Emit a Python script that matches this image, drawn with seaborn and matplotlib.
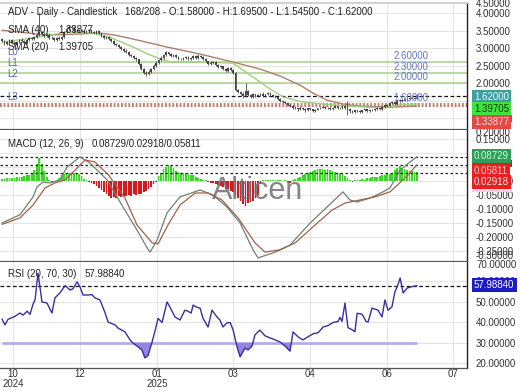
import numpy as np
import matplotlib
matplotlib.use("Agg")
import matplotlib.pyplot as plt
from matplotlib.ticker import FormatStrFormatter
from matplotlib.patches import Rectangle
import seaborn as sns

# ---------------- data ----------------
opens = [3.25, 3.20, 3.12, 3.18, 3.22, 3.15, 3.10, 3.18, 3.24, 3.20,
         3.16, 3.22, 3.28, 3.25, 3.32, 3.38, 3.45, 3.40, 3.35, 3.38,
         3.30, 3.28, 3.22, 3.30, 3.25, 3.32, 3.45, 3.55, 3.60, 3.58,
         3.50, 3.48, 3.52, 3.50, 3.45, 3.48, 3.52, 3.47, 3.44, 3.48,
         3.42, 3.35, 3.28, 3.32, 3.25, 3.20, 3.12, 3.08, 3.02, 2.98,
         2.92, 2.88, 2.80, 2.78, 2.72, 2.68, 2.55, 2.40, 2.30, 2.25,
         2.32, 2.40, 2.50, 2.58, 2.65, 2.72, 2.80, 2.88, 2.82, 2.78,
         2.80, 2.75, 2.70, 2.68, 2.72, 2.75, 2.70, 2.73, 2.76, 2.72,
         2.78, 2.74, 2.70, 2.62, 2.55, 2.58, 2.60, 2.52, 2.45, 2.48,
         2.40, 2.35, 2.42, 2.38, 2.30, 1.80, 1.75, 1.70, 1.62, 1.78,
         1.65, 1.60, 1.68, 1.62, 1.66, 1.70, 1.64, 1.68, 1.72, 1.66,
         1.62, 1.60, 1.55, 1.50, 1.45, 1.42, 1.38, 1.35, 1.30, 1.28,
         1.25, 1.30, 1.26, 1.22, 1.28, 1.25, 1.20, 1.24, 1.28, 1.30,
         1.32, 1.28, 1.30, 1.26, 1.30, 1.33, 1.28, 1.30, 1.35, 1.30,
         1.25, 1.20, 1.18, 1.22, 1.20, 1.16, 1.22, 1.25, 1.20, 1.24,
         1.22, 1.26, 1.28, 1.25, 1.32, 1.38, 1.35, 1.42, 1.45, 1.40,
         1.48, 1.52, 1.50, 1.55, 1.53, 1.58, 1.55, 1.58]
highs = [3.28, 3.24, 3.21, 3.25, 3.26, 3.19, 3.20, 3.27, 3.28, 3.23,
         3.25, 3.31, 3.32, 3.35, 3.42, 4.00, 3.50, 3.45, 3.42, 3.42,
         3.34, 3.31, 3.33, 3.34, 3.36, 3.50, 3.60, 3.66, 3.65, 3.62,
         3.54, 3.56, 3.56, 3.53, 3.51, 3.56, 3.56, 3.50, 3.51, 3.51,
         3.44, 3.38, 3.36, 3.35, 3.28, 3.22, 3.16, 3.11, 3.05, 3.01,
         2.96, 2.91, 2.84, 2.81, 2.75, 2.70, 2.58, 2.44, 2.34, 2.36,
         2.44, 2.54, 2.62, 2.68, 2.76, 2.84, 2.92, 2.90, 2.86, 2.84,
         2.83, 2.78, 2.73, 2.75, 2.78, 2.78, 2.75, 2.80, 2.80, 2.82,
         2.80, 2.76, 2.72, 2.64, 2.62, 2.63, 2.62, 2.55, 2.51, 2.50,
         2.43, 2.45, 2.45, 2.41, 2.32, 1.84, 1.78, 1.73, 2.00, 1.80,
         1.68, 1.71, 1.70, 1.68, 1.72, 1.73, 1.70, 1.75, 1.75, 1.69,
         1.65, 1.62, 1.57, 1.52, 1.48, 1.44, 1.40, 1.37, 1.33, 1.30,
         1.33, 1.32, 1.28, 1.30, 1.30, 1.27, 1.26, 1.30, 1.32, 1.35,
         1.34, 1.32, 1.32, 1.32, 1.36, 1.35, 1.32, 1.38, 1.38, 1.50,
         1.28, 1.22, 1.24, 1.24, 1.22, 1.24, 1.27, 1.27, 1.26, 1.26,
         1.28, 1.30, 1.30, 1.34, 1.40, 1.40, 1.45, 1.48, 1.47, 1.50,
         1.55, 1.54, 1.58, 1.57, 1.60, 1.60, 1.61, 1.695]
lows = [3.17, 3.09, 3.10, 3.15, 3.12, 3.07, 3.07, 3.15, 3.17, 3.13,
        3.13, 3.19, 3.22, 3.22, 3.29, 3.35, 3.37, 3.32, 3.32, 3.27,
        3.25, 3.19, 3.19, 3.22, 3.22, 3.30, 3.42, 3.52, 3.55, 3.47,
        3.45, 3.45, 3.47, 3.42, 3.42, 3.45, 3.44, 3.41, 3.41, 3.39,
        3.32, 3.25, 3.25, 3.22, 3.17, 3.09, 3.05, 2.99, 2.95, 2.89,
        2.85, 2.77, 2.75, 2.69, 2.64, 2.52, 2.37, 2.26, 2.20, 2.22,
        2.29, 2.38, 2.47, 2.55, 2.62, 2.69, 2.77, 2.79, 2.75, 2.75,
        2.72, 2.67, 2.65, 2.66, 2.69, 2.67, 2.67, 2.70, 2.69, 2.70,
        2.71, 2.67, 2.59, 2.52, 2.52, 2.55, 2.49, 2.42, 2.43, 2.37,
        2.32, 2.33, 2.35, 2.27, 1.78, 1.72, 1.66, 1.58, 1.60, 1.62,
        1.56, 1.57, 1.59, 1.60, 1.63, 1.61, 1.61, 1.65, 1.63, 1.59,
        1.57, 1.52, 1.47, 1.42, 1.39, 1.35, 1.32, 1.27, 1.25, 1.21,
        1.23, 1.23, 1.18, 1.20, 1.22, 1.16, 1.18, 1.22, 1.25, 1.28,
        1.25, 1.26, 1.23, 1.24, 1.28, 1.25, 1.26, 1.27, 1.27, 1.10,
        1.15, 1.13, 1.15, 1.17, 1.13, 1.14, 1.19, 1.17, 1.18, 1.19,
        1.20, 1.23, 1.22, 1.23, 1.30, 1.32, 1.33, 1.39, 1.37, 1.38,
        1.45, 1.47, 1.48, 1.50, 1.51, 1.53, 1.53, 1.545]
closes = [3.20, 3.12, 3.18, 3.22, 3.15, 3.10, 3.18, 3.24, 3.20, 3.16,
          3.22, 3.28, 3.25, 3.32, 3.38, 3.45, 3.40, 3.35, 3.38, 3.30,
          3.28, 3.22, 3.30, 3.25, 3.32, 3.45, 3.55, 3.60, 3.58, 3.50,
          3.48, 3.52, 3.50, 3.45, 3.48, 3.52, 3.47, 3.44, 3.48, 3.42,
          3.35, 3.28, 3.32, 3.25, 3.20, 3.12, 3.08, 3.02, 2.98, 2.92,
          2.88, 2.80, 2.78, 2.72, 2.68, 2.55, 2.40, 2.30, 2.25, 2.32,
          2.40, 2.50, 2.58, 2.65, 2.72, 2.80, 2.88, 2.82, 2.78, 2.80,
          2.75, 2.70, 2.68, 2.72, 2.75, 2.70, 2.73, 2.76, 2.72, 2.78,
          2.74, 2.70, 2.62, 2.55, 2.58, 2.60, 2.52, 2.45, 2.48, 2.40,
          2.35, 2.42, 2.38, 2.30, 1.80, 1.75, 1.70, 1.62, 1.78, 1.65,
          1.60, 1.68, 1.62, 1.66, 1.70, 1.64, 1.68, 1.72, 1.66, 1.62,
          1.60, 1.55, 1.50, 1.45, 1.42, 1.38, 1.35, 1.30, 1.28, 1.25,
          1.30, 1.26, 1.22, 1.28, 1.25, 1.20, 1.24, 1.28, 1.30, 1.32,
          1.28, 1.30, 1.26, 1.30, 1.33, 1.28, 1.30, 1.35, 1.30, 1.25,
          1.20, 1.18, 1.22, 1.20, 1.16, 1.22, 1.25, 1.20, 1.24, 1.22,
          1.26, 1.28, 1.25, 1.32, 1.38, 1.35, 1.42, 1.45, 1.40, 1.48,
          1.52, 1.50, 1.55, 1.53, 1.58, 1.55, 1.58, 1.62]

sma40_bar = [0, 7.2, 17.3, 29.4, 39.4, 45.5, 52.7, 66.4, 79.7, 93.0,
             103.8, 111.9, 119.9, 125.2, 130.8, 137.2, 144.1, 156.1, 167.0]
sma40_val = [3.51, 3.46, 3.37, 3.40, 3.43, 3.37, 3.26, 3.03, 2.83, 2.60,
             2.40, 2.20, 1.94, 1.71, 1.51, 1.40, 1.34, 1.31, 1.34]
sma20_bar = [0, 12.5, 26.2, 36.6, 43.5, 52.7, 59.6, 67.6, 80.9, 93.0,
             99.8, 106.6, 113.1, 121.1, 133.2, 146.9, 153.3, 160.2, 167.0]
sma20_val = [3.17, 3.29, 3.46, 3.43, 3.31, 3.03, 2.80, 2.60, 2.60, 2.57,
             2.23, 1.89, 1.60, 1.46, 1.37, 1.31, 1.29, 1.37, 1.40]

macd_hist = [0.008, 0.008, 0.010, 0.010, 0.012, 0.012, 0.014, 0.015,
             0.016, 0.018, 0.020, 0.022, 0.025,
             0.040, 0.060, 0.082,
             0.060, 0.035, 0.015,
             0.005, -0.003, -0.002, 0.003,
             0.012, 0.020, 0.025, 0.028, 0.030, 0.030, 0.028, 0.030, 0.026, 0.018,
             0.008, 0.002,
             -0.004, -0.008, -0.012, -0.018, -0.025, -0.032,
             -0.040, -0.048, -0.055, -0.060, -0.058, -0.062,
             -0.055, -0.058, -0.052, -0.055, -0.050, -0.053,
             -0.048, -0.050, -0.045, -0.048, -0.040, -0.036,
             -0.030, -0.020, -0.012, -0.004,
             0.018, 0.030, 0.042, 0.050,
             0.057, 0.052, 0.045,
             0.035, 0.032, 0.030, 0.028, 0.026, 0.025,
             0.022, 0.020, 0.016, 0.012, 0.008, 0.004, 0.002,
             -0.004, -0.006, -0.008, -0.010, -0.014, -0.018,
             -0.022, -0.028, -0.030, -0.035, -0.040, -0.050,
             -0.060, -0.070, -0.082, -0.088, -0.080, -0.075,
             -0.070, -0.060, -0.050, -0.010,
             0.003, 0.002, 0.004, 0.003, 0.002, 0.004, 0.003, 0.002, 0.001, 0.002, -0.002, -0.006,
             0.002, 0.006, 0.010, 0.014, 0.020, 0.024,
             0.028, 0.032, 0.036, 0.040, 0.042, 0.044,
             0.043, 0.040, 0.042, 0.038, 0.036, 0.032,
             0.030, 0.028, 0.024, 0.018, 0.010, 0.004,
             -0.002, 0.002, 0.003, 0.004, 0.006, 0.005,
             0.010, 0.012, 0.014, 0.013, 0.016, 0.018,
             0.020, 0.022, 0.024, 0.025, 0.030, 0.040,
             0.048, 0.052, 0.047, 0.042, 0.038,
             0.036, 0.034, 0.032, 0.032]

macd_bar = [0, 7.2, 12.5, 14.1, 16.5, 19.3, 23.3, 26.2, 31.4, 35.4,
            42.3, 48.7, 54.3, 58.4, 59.6, 62.4, 66.4, 71.6, 79.7, 84.9,
            90.5, 95.8, 101.0, 103.0, 110.0, 115.9, 124.0, 130.8, 137.2, 140.0,
            142.9, 148.1, 153.3, 156.1, 160.2, 164.2, 167.0]
macd_val = [-0.150, -0.121, -0.057, -0.021, -0.004, -0.007, 0.004, 0.050, 0.086, 0.064,
            0.004, -0.093, -0.175, -0.239, -0.254, -0.211, -0.114, -0.057, -0.032, -0.050,
            -0.093, -0.150, -0.246, -0.275, -0.254, -0.229, -0.150, -0.093, -0.039, -0.068,
            -0.075, -0.061, -0.039, -0.025, 0.039, 0.068, 0.087]
signal_bar = [0, 7.2, 12.5, 17.3, 21.3, 25.4, 29.4, 33.4, 37.4, 42.9,
              49.5, 54.3, 60.4, 62.8, 66.8, 71.6, 77.7, 82.9, 88.5, 95.0,
              101.8, 105.8, 111.9, 118.0, 126.0, 132.8, 138.0, 144.0, 150.0, 156.1,
              162.2, 167.0]
signal_val = [-0.155, -0.132, -0.086, -0.025, -0.007, 0.004, 0.039, 0.075, 0.068, 0.021,
              -0.061, -0.157, -0.221, -0.225, -0.157, -0.086, -0.043, -0.043, -0.068, -0.132,
              -0.221, -0.254, -0.246, -0.221, -0.157, -0.104, -0.079, -0.068, -0.057, -0.039,
              0.011, 0.058]

rsi_bar = [0, 1.2, 2.4, 5.2, 7.2, 8.5, 10.1, 11.3, 12.5, 13.3,
           14.5, 16.1, 18.1, 20.1, 21.3, 23.3, 25.4, 27.4, 28.6, 30.2,
           31.4, 32.6, 34.6, 36.2, 37.4, 39.4, 41.4, 42.7, 45.5, 46.7,
           49.5, 51.5, 52.7, 54.3, 56.3, 57.5, 58.8, 60.4, 61.6, 62.8,
           64.4, 66.4, 67.6, 69.6, 71.6, 73.6, 74.8, 76.1, 76.9, 78.1,
           79.7, 80.9, 82.9, 84.5, 86.5, 87.7, 88.9, 90.5, 91.8, 93.0,
           94.6, 95.8, 97.8, 99.0, 100.6, 101.8, 103.0, 103.8, 105.8, 107.8,
           109.9, 111.9, 113.9, 115.9, 117.1, 119.1, 121.1, 123.1, 125.2, 127.2,
           129.2, 131.2, 133.2, 135.2, 136.0, 136.8, 138.0, 139.2, 140.8, 142.0,
           142.9, 144.9, 146.5, 147.3, 148.9, 151.3, 152.9, 154.1, 155.3, 156.9,
           158.1, 159.0, 160.2, 161.4, 163.0, 165.0, 167.0]
rsi_val = [41.7, 38.8, 41.5, 43.0, 44.6, 43.6, 45.5, 44.0, 49.0, 51.0,
           64.0, 50.0, 49.5, 44.6, 52.0, 54.4, 58.0, 55.8, 56.5, 59.8,
           57.3, 53.4, 53.4, 53.6, 52.0, 51.0, 45.0, 40.2, 38.8, 37.3,
           35.4, 31.5, 30.0, 28.5, 26.6, 22.7, 24.0, 30.5, 36.0, 42.0,
           40.0, 50.0, 47.5, 42.7, 41.2, 46.0, 45.5, 44.6, 48.5, 47.6,
           47.0, 42.0, 37.8, 46.0, 42.7, 41.2, 37.8, 39.8, 40.0, 36.3,
           28.0, 23.2, 27.5, 26.6, 28.5, 34.0, 35.4, 36.3, 33.5, 32.5,
           31.5, 30.5, 28.5, 26.0, 35.4, 33.0, 31.5, 33.0, 34.5, 35.0,
           37.8, 38.5, 40.0, 40.5, 42.5, 40.5, 49.5, 37.5, 36.5, 35.5,
           44.5, 44.0, 40.5, 40.2, 47.0, 46.0, 42.7, 51.0, 46.0, 47.6,
           55.0, 57.3, 61.7, 54.4, 56.8, 57.5, 57.99]

levels = [2.6, 2.3, 2.0]
level_texts = ["2.60000", "2.30000", "2.00000"]
l3_level = 1.6
last_close = 1.62
sma20_last = 1.39705
sma40_last = 1.33877
macd_last, signal_last, hist_last = 0.08729, 0.05811, 0.02918
rsi_last = 57.98840

month_ticks = [4.4, 31.4, 62.4, 93.0, 124.0, 155.0, 181.5]
month_labels = ["10\n2024", "12", "01\n2025", "03", "04", "06", "07"]

# ---------------- figure ----------------
sns.set_theme(style="white")
plt.rcParams["font.family"] = ["Liberation Sans", "DejaVu Sans"]

W, H = 520, 390
fig = plt.figure(figsize=(W / 100, H / 100), dpi=100)
fig.patch.set_facecolor("white")


def fx(px):
    return px / W


def fy(py):
    return 1 - py / H


PR = 467
ax1 = fig.add_axes([0, fy(128.5), fx(PR), (128.5 - 3) / H])
ax2 = fig.add_axes([0, fy(261), fx(PR), (261 - 129.5) / H])
ax3 = fig.add_axes([0, fy(368), fx(PR), (368 - 262) / H])

TXT = "#333333"
GRID = "#e4e4e4"
for ax in (ax1, ax2, ax3):
    ax.set_xlim(-0.8, 187.1)
    ax.set_facecolor("white")
    ax.yaxis.tick_right()
    ax.yaxis.set_major_formatter(FormatStrFormatter("%.5f"))
    ax.tick_params(axis="y", length=0, pad=6, labelsize=7, labelcolor=TXT)
    ax.tick_params(axis="x", length=0, pad=1, labelsize=7, labelcolor=TXT)
    ax.set_xticks(month_ticks)
    ax.grid(True, color=GRID, lw=0.8)
    ax.set_axisbelow(True)
    ax.spines["left"].set_visible(False)
    ax.spines["top"].set_visible(False)
    ax.spines["right"].set_color("#222222")
    ax.spines["right"].set_linewidth(1.0)
    ax.spines["bottom"].set_color("#555555")
    ax.spines["bottom"].set_linewidth(0.9)
ax1.spines["top"].set_visible(True)
ax1.spines["top"].set_color("#cccccc")
ax1.set_xticklabels([])
ax2.set_xticklabels([])
ax3.set_xticklabels(month_labels, linespacing=0.95)

# ---------------- price panel ----------------
bars = np.arange(len(closes))
o = np.array(opens)
hh = np.array(highs)
ll = np.array(lows)
c = np.array(closes)

ax1.set_ylim(0.70, 4.29)
ax1.set_yticks(np.arange(1.0, 4.01, 0.5))

for lv in levels:
    ax1.axhline(lv, color="#a9d18e", lw=1.1, zorder=1)
ax1.axhline(sma20_last, color="#b0603a", lw=1.1, ls=(0, (1.2, 1.2)), zorder=1)
ax1.axhline(sma40_last, color="#c04848", lw=1.1, ls=(0, (1.2, 1.2)), zorder=1)
ax1.axhline(last_close, color="#111111", lw=0.9, ls=(0, (3, 2)), zorder=1)

sns.lineplot(x=sma40_bar, y=sma40_val, ax=ax1, color="#b07e6e", lw=1.0, zorder=2)
sns.lineplot(x=sma20_bar, y=sma20_val, ax=ax1, color="#9fd07a", lw=1.0, zorder=2)

ax1.vlines(bars, ll, hh, color="#444444", lw=0.6, zorder=3)
body_lo = np.minimum(o, c)
body_h = np.maximum(np.abs(c - o), 0.012)
ax1.bar(bars, body_h, bottom=body_lo, width=0.7, color="#444444", lw=0, zorder=3)

for lv, t in zip(levels, level_texts):
    ax1.text(157.5, lv + 0.02, t, color="#6677cc", fontsize=7, va="bottom", ha="left")
ax1.text(157.5, l3_level - 0.04, "1.60000", color="#6677cc", fontsize=7, va="center", ha="left")

# ---------------- MACD panel ----------------
hist = np.array(macd_hist)
ax2.set_ylim(-0.286, 0.184)
ax2.set_yticks(np.round(np.arange(-0.25, 0.151, 0.05), 2))
ax2.fill_between(bars, 0, hist, where=hist > 0, step="mid", color="#c9f7c3", lw=0, zorder=1)
ax2.fill_between(bars, 0, hist, where=hist < 0, step="mid", color="#ffd4e6", lw=0, zorder=1)
hcols = ["#3fd42a" if v >= 0 else "#d01c1c" for v in hist]
ax2.bar(bars, hist, width=0.7, color=hcols, lw=0, zorder=2)
for v in (macd_last, signal_last, hist_last):
    ax2.axhline(v, color="#222222", lw=0.9, ls=(0, (2, 2)), zorder=3)
sns.lineplot(x=macd_bar, y=macd_val, ax=ax2, color="#6f8270", lw=0.9, zorder=4)
sns.lineplot(x=signal_bar, y=signal_val, ax=ax2, color="#a0604a", lw=0.9, zorder=4)
ax2.text(0.552, 0.53, "Alticen", transform=ax2.transAxes, fontsize=22,
         color="#707070", alpha=0.85, ha="center", va="center", zorder=5)

# ---------------- RSI panel ----------------
ax3.set_ylim(17.8, 69.5)
ax3.set_yticks([20, 30, 40, 50, 60])
rb = np.array(rsi_bar)
rv = np.array(rsi_val)
ax3.hlines(30, 0, bars[-1], color="#b9aae8", lw=2.0, zorder=1)
ax3.fill_between(rb, rv, 30, where=rv < 30, interpolate=True, color="#9583e2", lw=0, zorder=2)
ax3.axhline(rsi_last, color="#111111", lw=0.9, ls=(0, (3, 2)), zorder=2)
sns.lineplot(x=rsi_bar, y=rsi_val, ax=ax3, color="#3b2f9c", lw=1.0, zorder=3)

for ax in (ax1, ax2, ax3):
    ax.set_xlabel("")
    ax.set_ylabel("")

# ---------------- texts ----------------
FS = 7
fig.text(fx(8), fy(12), "ADV - Daily - Candlestick", fontsize=FS, color="#222222", va="center")
fig.text(fx(125), fy(12), "168/208 - O:1.58000 - H:1.69500 - L:1.54500 - C:1.62000",
         fontsize=FS, color="#222222", va="center")
fig.text(fx(8), fy(30), "SMA (40)", fontsize=FS, color="#222222", va="center")
fig.text(fx(58), fy(30), "1.33877", fontsize=FS, color="#222222", va="center")
fig.text(fx(8), fy(47), "SMA (20)", fontsize=FS, color="#222222", va="center")
fig.text(fx(58), fy(47), "1.39705", fontsize=FS, color="#222222", va="center")
for name, py in (("L0", 52), ("L1", 63), ("L2", 74), ("L3", 97)):
    fig.text(fx(7), fy(py), name, fontsize=FS, color="#5b6bb8", va="center")

fig.text(fx(8), fy(144), "MACD (12, 26, 9)", fontsize=FS, color="#222222", va="center")
fig.text(fx(92), fy(144), "0.08729/0.02918/0.05811", fontsize=FS, color="#222222", va="center")
fig.text(fx(8), fy(274), "RSI (20, 70, 30)", fontsize=FS, color="#222222", va="center")
fig.text(fx(85), fy(274), "57.98840", fontsize=FS, color="#222222", va="center")

# clamped edge labels of the value axes
for txt, py in (("4.50000", 4), ("0.20000", 133), ("-0.30000", 256), ("70.00000", 265)):
    fig.text(fx(476), fy(py), txt, fontsize=FS, color=TXT, va="center")


def tag(py, text, bg, fg):
    fig.text(fx(474), fy(py), text, fontsize=FS, color=fg, va="center", ha="left",
             bbox=dict(boxstyle="square,pad=0.22", fc=bg, ec="none"), zorder=10)


# price tags
tag(97, "1.62000", "#3e9d9d", "#e6ffff")
tag(109, "1.39705", "#3fe23f", "#0d3d0d")
fig.add_artist(Rectangle((fx(471.5), fy(122)), 40 / W, 7 / H, transform=fig.transFigure,
                         fc="#8c6c3c", ec="none", zorder=9))
tag(122, "1.33877", "#e64848", "#ffe0e0")
# MACD tags
tag(156, "0.08729", "#2f9e5c", "#cfffd6")
fig.add_artist(Rectangle((fx(471.5), fy(167)), 40 / W, 7 / H, transform=fig.transFigure,
                         fc="#7a4a22", ec="none", zorder=9))
fig.add_artist(Rectangle((fx(471.5), fy(192)), 40 / W, 5 / H, transform=fig.transFigure,
                         fc="#ffcdee", ec="none", zorder=9))
tag(171, "0.05811", "#e82020", "#ffc8c8")
tag(182, "0.02918", "#e82020", "#ffe4e4")
# RSI tag
tag(285, "57.98840", "#1c1cc8", "#ffffff")

fig.savefig("out.png", dpi=100, facecolor="white")
